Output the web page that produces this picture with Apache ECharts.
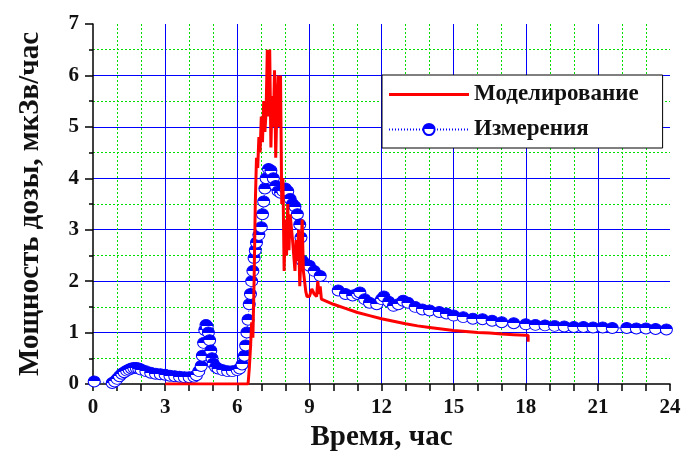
<!DOCTYPE html>
<html>
<head>
<meta charset="utf-8">
<script src="https://cdn.jsdelivr.net/npm/echarts@6/dist/echarts.min.js"></script>
<style>html,body{margin:0;padding:0;background:#fff}#c{width:684px;height:461px}</style>
</head>
<body>
<div id="c"></div>
<script>
// ---- data ----
var seriesNames = ['Моделирование', 'Измерения'];
var xAxisTitle = 'Время, час';
var yAxisTitle = 'Мощность дозы, мкЗв/час';

var timeModel = [3.0, 6.45, 6.5, 6.55, 6.6, 6.65, 6.7, 6.75, 6.8, 6.85, 6.9, 6.95, 7.0, 7.05, 7.1, 7.15, 7.2, 7.25, 7.3, 7.35, 7.4, 7.45, 7.5, 7.55, 7.6, 7.65, 7.7, 7.75, 7.8, 7.85, 7.9, 7.95, 8.0, 8.05, 8.1, 8.15, 8.2, 8.3, 8.4, 8.45, 8.5, 8.55, 8.6, 8.65, 8.7, 8.75, 8.8, 8.85, 8.9, 9.0, 9.1, 9.2, 9.3, 9.35, 9.4, 9.45, 9.5, 10.0, 10.5, 11.0, 11.5, 12.0, 12.5, 13.0, 13.5, 14.0, 14.5, 15.0, 15.5, 16.0, 16.5, 17.0, 17.5, 18.0, 18.1, 18.1];
var doseModel = [0.0, 0.0, 0.3, 0.7, 1.2, 0.9, 2.0, 3.5, 4.4, 4.2, 4.8, 4.5, 5.2, 4.7, 5.5, 4.9, 5.3, 6.5, 5.2, 6.5, 4.6, 5.6, 5.0, 6.1, 4.4, 5.4, 6.0, 5.0, 6.0, 3.5, 4.0, 2.2, 3.2, 2.5, 3.5, 2.6, 3.3, 2.8, 2.2, 2.8, 2.4, 3.0, 1.9, 2.5, 3.2, 2.2, 2.0, 1.8, 1.7, 1.7, 1.85, 1.75, 1.7, 2.0, 1.75, 1.9, 1.65, 1.55, 1.47, 1.39, 1.33, 1.27, 1.22, 1.17, 1.13, 1.1, 1.07, 1.04, 1.02, 1.0, 0.99, 0.97, 0.96, 0.95, 0.95, 0.82];

var timeMeas = [0.05, 0.8, 0.9, 1.0, 1.1, 1.2, 1.3, 1.4, 1.5, 1.6, 1.7, 1.8, 1.9, 2.0, 2.2, 2.4, 2.6, 2.8, 3.0, 3.2, 3.4, 3.6, 3.8, 4.0, 4.2, 4.3, 4.4, 4.5, 4.55, 4.6, 4.65, 4.7, 4.75, 4.8, 4.85, 4.9, 4.95, 5.0, 5.1, 5.2, 5.4, 5.6, 5.8, 6.0, 6.1, 6.2, 6.3, 6.35, 6.4, 6.45, 6.5, 6.55, 6.6, 6.65, 6.7, 6.75, 6.8, 6.9, 7.0, 7.05, 7.1, 7.15, 7.2, 7.3, 7.4, 7.5, 7.6, 7.7, 7.8, 7.9, 8.0, 8.1, 8.2, 8.3, 8.4, 8.5, 8.6, 8.65, 8.7, 8.8, 9.0, 9.2, 9.45, 10.2, 10.5, 10.8, 11.0, 11.1, 11.3, 11.5, 11.8, 12.0, 12.1, 12.3, 12.5, 12.7, 12.9, 13.1, 13.4, 13.7, 14.0, 14.4, 14.7, 15.0, 15.4, 15.8, 16.2, 16.6, 17.0, 17.5, 18.0, 18.4, 18.8, 19.2, 19.6, 20.0, 20.4, 20.8, 21.2, 21.6, 22.2, 22.6, 23.0, 23.4, 23.85];
var doseMeas = [0.05, 0.02, 0.05, 0.1, 0.15, 0.2, 0.23, 0.26, 0.28, 0.3, 0.31, 0.31, 0.3, 0.28, 0.25, 0.22, 0.2, 0.19, 0.18, 0.16, 0.15, 0.14, 0.13, 0.13, 0.14, 0.17, 0.25, 0.35, 0.55, 0.8, 1.05, 1.15, 1.12, 1.0, 0.85, 0.65, 0.5, 0.4, 0.33, 0.3, 0.27, 0.25, 0.25, 0.27, 0.3, 0.38, 0.55, 0.75, 1.0, 1.25, 1.55, 1.75, 2.0, 2.2, 2.45, 2.6, 2.75, 2.9, 3.05, 3.3, 3.55, 3.8, 4.0, 4.18, 4.15, 4.0, 3.85, 3.75, 3.72, 3.75, 3.8, 3.75, 3.6, 3.5, 3.45, 3.3, 3.1, 2.85, 2.4, 2.35, 2.3, 2.2, 2.1, 1.82, 1.75, 1.72, 1.75, 1.78, 1.65, 1.58, 1.55, 1.65, 1.7, 1.6, 1.52, 1.55, 1.62, 1.58, 1.5, 1.45, 1.43, 1.4, 1.37, 1.33, 1.3, 1.27, 1.26, 1.23, 1.2, 1.18, 1.16, 1.15, 1.14, 1.13, 1.12, 1.11, 1.11, 1.1, 1.1, 1.09, 1.09, 1.08, 1.08, 1.07, 1.06];

var xTicks = [0, 3, 6, 9, 12, 15, 18, 21, 24];
var yTicks = [0, 1, 2, 3, 4, 5, 6, 7];

// ---- chart ----
function pairs(xs, ys) { return xs.map(function (x, i) { return [x, ys[i]]; }); }
var FONT = '"Liberation Serif", "Times New Roman", serif';
var chart = echarts.init(document.getElementById('c'));
var halfFill = {
  type: 'linear', x: 0, y: 0, x2: 0, y2: 1,
  colorStops: [
    { offset: 0, color: '#0000ff' }, { offset: 0.5, color: '#0000ff' },
    { offset: 0.5, color: '#ffffff' }, { offset: 1, color: '#ffffff' }
  ]
};
chart.setOption({
  animation: false,
  backgroundColor: '#ffffff',
  grid: { left: 93, right: 14, top: 24, bottom: 77 },
  legend: {
    data: [
      { name: seriesNames[0], icon: 'path://M0,0h80v3.2h-80z' },
      { name: seriesNames[1] }
    ],
    orient: 'vertical',
    left: 382, top: 75,
    backgroundColor: '#ffffff',
    borderColor: '#000000', borderWidth: 1, borderRadius: 0,
    padding: [8, 24, 7, 6],
    itemWidth: 80, itemHeight: 14, itemGap: 12,
    textStyle: { fontFamily: FONT, fontWeight: 'bold', fontSize: 23, color: '#111' }
  },
  xAxis: {
    type: 'value', min: xTicks[0], max: xTicks[xTicks.length - 1], interval: 3,
    name: xAxisTitle, nameLocation: 'middle', nameGap: 38,
    nameTextStyle: { fontFamily: FONT, fontWeight: 'bold', fontSize: 29, color: '#111' },
    axisLine: { show: true, lineStyle: { color: '#000', width: 1.5 } },
    axisTick: { show: true, length: 7, lineStyle: { color: '#000', width: 1.5 } },
    minorTick: { show: true, splitNumber: 3, length: 7, lineStyle: { color: '#000', width: 1.5 } },
    axisLabel: { margin: 13, fontFamily: FONT, fontWeight: 'bold', fontSize: 21, color: '#111' },
    splitLine: { show: true, showMinLine: false, showMaxLine: false, lineStyle: { color: '#0000ff', width: 1 } },
    minorSplitLine: { show: true, lineStyle: { color: '#00e000', width: 1, type: [2, 2] } }
  },
  yAxis: {
    type: 'value', min: yTicks[0], max: yTicks[yTicks.length - 1], interval: 1,
    name: yAxisTitle, nameLocation: 'middle', nameGap: 48,
    nameTextStyle: { fontFamily: FONT, fontWeight: 'bold', fontSize: 29, color: '#111' },
    axisLine: { show: true, lineStyle: { color: '#000', width: 1.5 } },
    axisTick: { show: true, length: 8, lineStyle: { color: '#000', width: 1.5 } },
    minorTick: { show: true, splitNumber: 2, length: 4, lineStyle: { color: '#000', width: 1.5 } },
    axisLabel: { margin: 14, fontFamily: FONT, fontWeight: 'bold', fontSize: 21, color: '#111' },
    splitLine: { show: true, showMinLine: false, showMaxLine: false, lineStyle: { color: '#0000ff', width: 1 } },
    minorSplitLine: { show: true, lineStyle: { color: '#00e000', width: 1, type: [2, 2] } }
  },
  series: [
    {
      name: seriesNames[1], type: 'line', z: 2,
      data: pairs(timeMeas, doseMeas),
      symbol: 'circle', symbolSize: [12, 11],
      itemStyle: { color: halfFill, borderColor: '#0000ff', borderWidth: 1 },
      lineStyle: { color: '#0000ff', width: 1, type: [1, 2] }
    },
    {
      name: seriesNames[0], type: 'line', z: 3,
      data: pairs(timeModel, doseModel),
      symbol: 'none',
      itemStyle: { color: '#ff0000' },
      lineStyle: { color: '#ff0000', width: 3 }
    }
  ]
});
</script>
</body>
</html>
